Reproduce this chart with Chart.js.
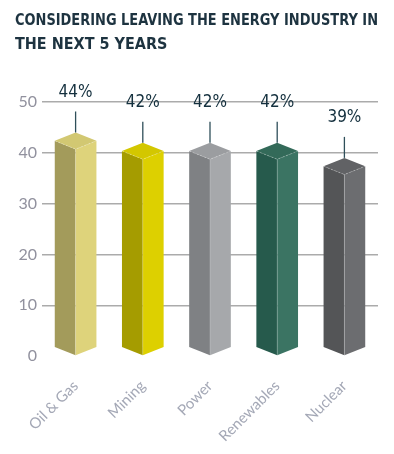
<!DOCTYPE html>
<html>
<head>
<meta charset="utf-8">
<script src="https://cdn.jsdelivr.net/npm/chart.js@4.4.1/dist/chart.umd.min.js"></script>
<style>
  html, body { margin: 0; padding: 0; background: #ffffff; }
  #wrap { width: 394px; height: 454px; position: relative; }
</style>
</head>
<body>
<div id="wrap"><canvas id="chart"></canvas></div>
<script>
// Chart data
const categories = ['Oil & Gas', 'Mining', 'Power', 'Renewables', 'Nuclear'];
const percentValues = [44, 42, 42, 42, 39];
const yTicks = [0, 10, 20, 30, 40, 50];

// Face colours per bar: left (shaded), right (lit), top
const leftColors = ['#a39b5b', '#a59c00', '#7f8184', '#265a4c', '#545557'];
const rightColors = ['#ded37b', '#ddd000', '#a6a8ab', '#3b7463', '#6c6d70'];
const topColors = ['#d2c872', '#d3c700', '#9b9da0', '#336a59', '#616265'];

// Draws each bar as a square prism seen from its corner, plus the value label
const prismPlugin = {
  id: 'prism',
  afterDatasetsDraw(chart) {
    const ctx = chart.ctx;
    const meta = chart.getDatasetMeta(0);
    meta.data.forEach((bar, i) => {
      const x = bar.x;
      const y = bar.y;
      const base = bar.base;
      const half = bar.width / 2;
      const d = bar.width * 0.2;

      ctx.save();
      // left face
      ctx.fillStyle = leftColors[i];
      ctx.beginPath();
      ctx.moveTo(x - half, y + d);
      ctx.lineTo(x, y + 2 * d);
      ctx.lineTo(x, base);
      ctx.lineTo(x - half, base - d);
      ctx.closePath();
      ctx.fill();

      // right face
      ctx.fillStyle = rightColors[i];
      ctx.beginPath();
      ctx.moveTo(x, y + 2 * d);
      ctx.lineTo(x + half, y + d);
      ctx.lineTo(x + half, base - d);
      ctx.lineTo(x, base);
      ctx.closePath();
      ctx.fill();

      // top face
      ctx.fillStyle = topColors[i];
      ctx.beginPath();
      ctx.moveTo(x, y);
      ctx.lineTo(x + half, y + d);
      ctx.lineTo(x, y + 2 * d);
      ctx.lineTo(x - half, y + d);
      ctx.closePath();
      ctx.fill();

      // light dashed edges on the roof and front edge
      ctx.strokeStyle = 'rgba(255,255,255,0.35)';
      ctx.lineWidth = 0.8;
      ctx.setLineDash([2, 2]);
      ctx.beginPath();
      ctx.moveTo(x - half, y + d);
      ctx.lineTo(x, y + 2 * d);
      ctx.lineTo(x + half, y + d);
      ctx.stroke();
      ctx.setLineDash([]);
      ctx.strokeStyle = 'rgba(255,255,255,0.25)';
      ctx.beginPath();
      ctx.moveTo(x, y + 2 * d);
      ctx.lineTo(x, base);
      ctx.stroke();

      // leader line and value label
      ctx.strokeStyle = '#2f4f5a';
      ctx.lineWidth = 1.3;
      ctx.beginPath();
      ctx.moveTo(x, y - 21);
      ctx.lineTo(x, y);
      ctx.stroke();

      ctx.fillStyle = '#14303e';
      ctx.font = '17px "DejaVu Sans Condensed", "DejaVu Sans", sans-serif';
      ctx.textAlign = 'center';
      ctx.textBaseline = 'middle';
      ctx.fillText(percentValues[i] + '%', x, y - 40);
      ctx.restore();
    });
  }
};

const chart = new Chart(document.getElementById('chart'), {
  type: 'bar',
  data: {
    labels: categories,
    datasets: [{
      data: percentValues,
      backgroundColor: 'rgba(0,0,0,0)',
      borderWidth: 0,
      categoryPercentage: 1,
      barPercentage: 0.62
    }]
  },
  options: {
    responsive: true,
    maintainAspectRatio: false,
    animation: false,
    events: [],
    layout: {
      padding: { left: 15, right: 16, top: 0, bottom: 0 }
    },
    plugins: {
      legend: { display: false },
      tooltip: { enabled: false },
      title: {
        display: true,
        align: 'start',
        text: ['CONSIDERING LEAVING THE ENERGY INDUSTRY IN', 'THE NEXT 5 YEARS'],
        color: '#1d3340',
        font: { family: '"DejaVu Sans Condensed", "DejaVu Sans", sans-serif', size: 16, weight: 'bold', lineHeight: 1.5 },
        padding: { top: 9, bottom: 45 }
      }
    },
    scales: {
      x: {
        grid: { display: false },
        border: { display: false },
        ticks: {
          color: '#a4a8b6',
          font: { family: 'Lato, sans-serif', size: 15 },
          minRotation: 45,
          maxRotation: 45,
          padding: 13
        },
        afterFit(scale) { scale.height = 98; }
      },
      y: {
        min: 0,
        max: 50,
        afterBuildTicks(scale) { scale.ticks = yTicks.map(v => ({ value: v })); },
        grid: {
          drawTicks: false,
          color: ctx => (ctx.tick && ctx.tick.value === 0 ? 'rgba(0,0,0,0)' : '#ababab'),
          lineWidth: 1.4
        },
        border: { display: false },
        ticks: {
          color: '#91919e',
          font: { family: 'Lato, sans-serif', size: 16 },
          padding: 5
        },
        afterFit(scale) { scale.width = 27; }
      }
    }
  },
  plugins: [prismPlugin]
});
</script>
</body>
</html>
